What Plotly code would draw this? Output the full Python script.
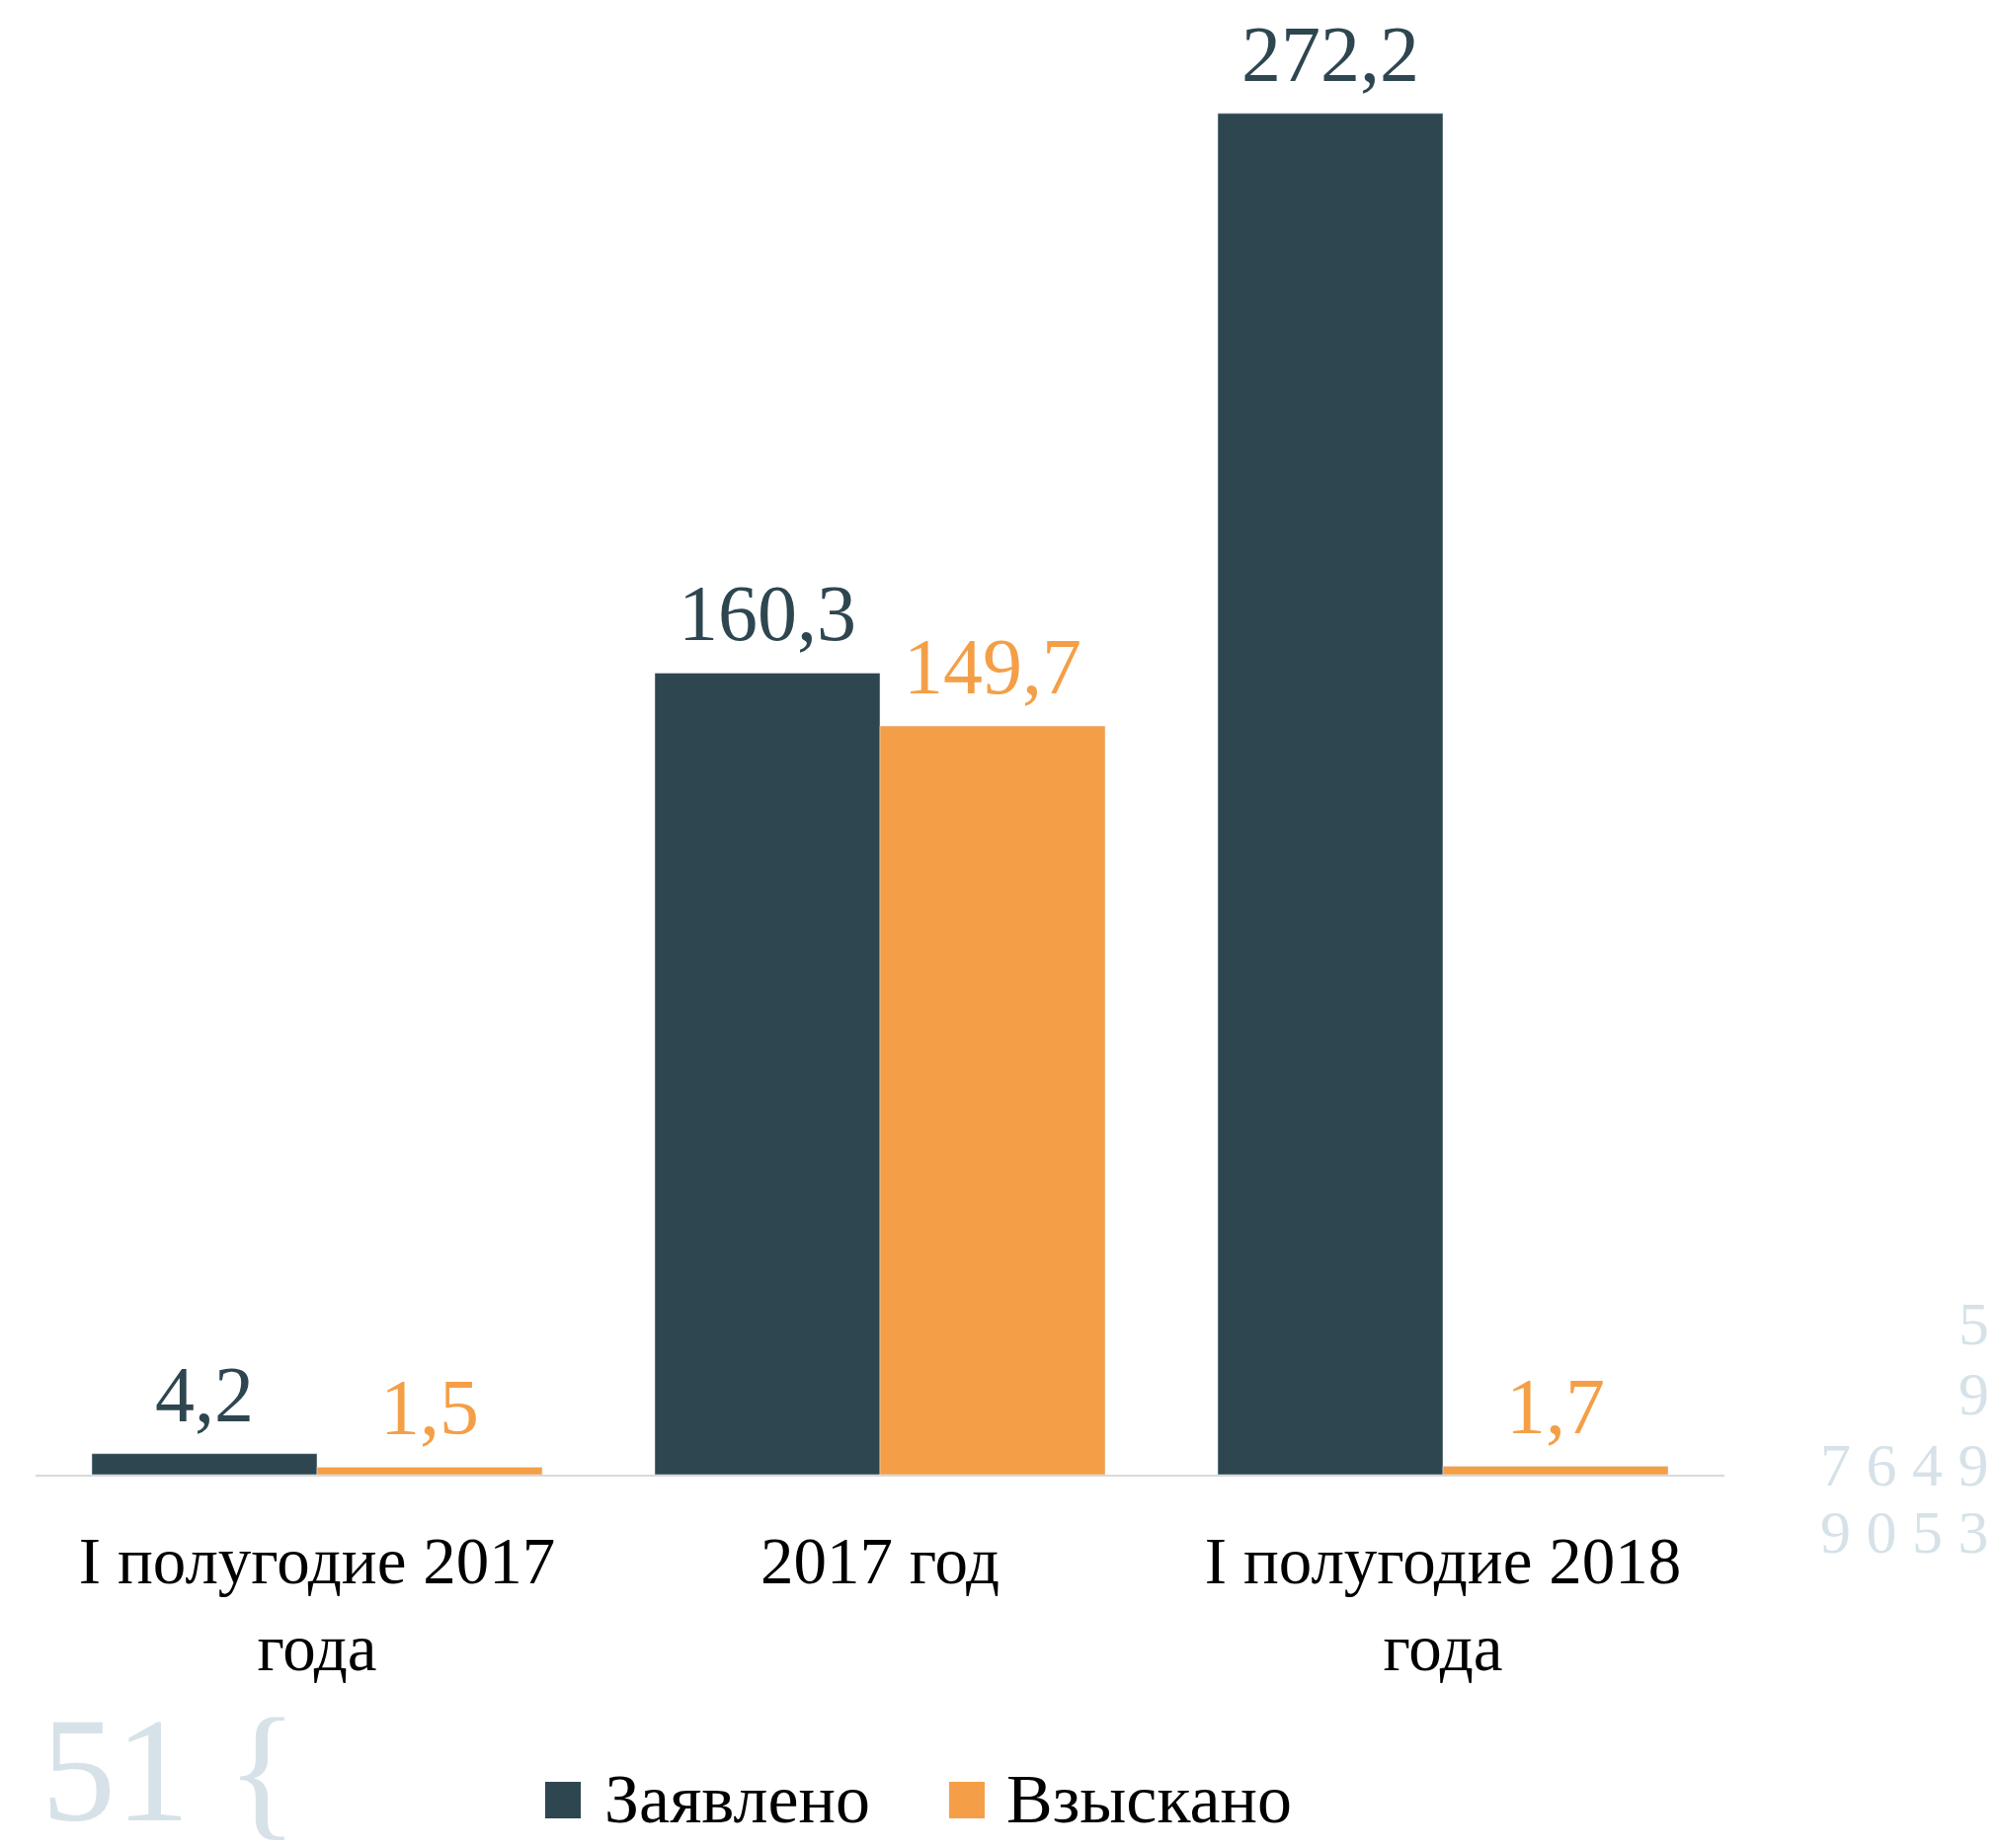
import plotly.graph_objects as go

categories = ["I полугодие 2017<br>года", "2017 год", "I полугодие 2018<br>года"]
declared = [4.2, 160.3, 272.2]
recovered = [1.5, 149.7, 1.7]
series_names = ["Заявлено", "Взыскано"]
colors = ["#2E4650", "#F49F47"]
deco_right = ["5", "9", "7 6 4 9", "9 0 5 3"]
deco_left = "51 {"

FONT = "Liberation Serif"
W, H = 2023, 1871
ML, MR, MT, MB = 36, 277, 40, 378
PW, PH = W - ML - MR, H - MT - MB
BASE = H - MB  # pixel y of plot bottom
BARGAP = 0.2


def px_x(px):
    return (px - ML) / PW


def px_y(py):
    return (BASE - py) / PH


def fmt(v):
    return f"{v:.1f}".replace(".", ",")


fig = go.Figure()
n_series = 2
bar_w = (1 - BARGAP) / n_series
for k, (name, vals, col) in enumerate(zip(series_names, [declared, recovered], colors)):
    fig.add_trace(go.Bar(
        x=categories, y=vals, name=name, marker_color=col,
        showlegend=False, hoverinfo="x+y",
    ))
    offset = -((1 - BARGAP) / 2) + bar_w * (k + 0.5)
    for i, v in enumerate(vals):
        fig.add_annotation(x=i + offset, y=v, xref="x", yref="y", text=fmt(v),
                           showarrow=False, xanchor="center", yanchor="bottom", yshift=14,
                           font=dict(family=FONT, size=80, color=col))

# manual legend with large square keys
legend_items = [(552, 610), (961, 1017)]
for (sx, tx), name, col in zip(legend_items, series_names, colors):
    fig.add_shape(type="rect", xref="paper", yref="paper",
                  x0=px_x(sx), x1=px_x(sx + 36), y0=px_y(1841), y1=px_y(1804),
                  fillcolor=col, line=dict(width=0))
    fig.add_annotation(text=name, xref="paper", yref="paper", x=px_x(tx), y=px_y(1822),
                       xanchor="left", yanchor="middle", showarrow=False,
                       font=dict(family=FONT, size=70, color="#000000"))

# faint decorative digits
row_y = [1340, 1411, 1483, 1551]
for t, yy in zip(deco_right, row_y):
    fig.add_annotation(text=t, xref="paper", yref="paper", x=px_x(2016), y=px_y(yy),
                       xanchor="right", yanchor="middle", showarrow=False,
                       font=dict(family=FONT, size=62, color="#D6E2E8"))
fig.add_annotation(text=deco_left, xref="paper", yref="paper", x=px_x(40), y=px_y(1792),
                   xanchor="left", yanchor="middle", showarrow=False,
                   font=dict(family=FONT, size=150, color="#D6E2E8"))

fig.update_layout(
    width=W, height=H,
    margin=dict(l=ML, r=MR, t=MT, b=MB),
    paper_bgcolor="white", plot_bgcolor="white",
    barmode="group", bargap=BARGAP, bargroupgap=0,
    showlegend=False,
    font=dict(family=FONT, color="#000000"),
)
fig.update_xaxes(showline=True, linecolor="#D9D9D9", linewidth=2, showgrid=False,
                 ticks="", tickfont=dict(family=FONT, size=67, color="#000000"),
                 ticklabelstandoff=28)
fig.update_yaxes(visible=False, range=[0, PH / 5.063], showgrid=False, zeroline=False)

fig.write_html("out.html", config={"displayModeBar": False},
               post_script="document.body.style.margin='0px';")
